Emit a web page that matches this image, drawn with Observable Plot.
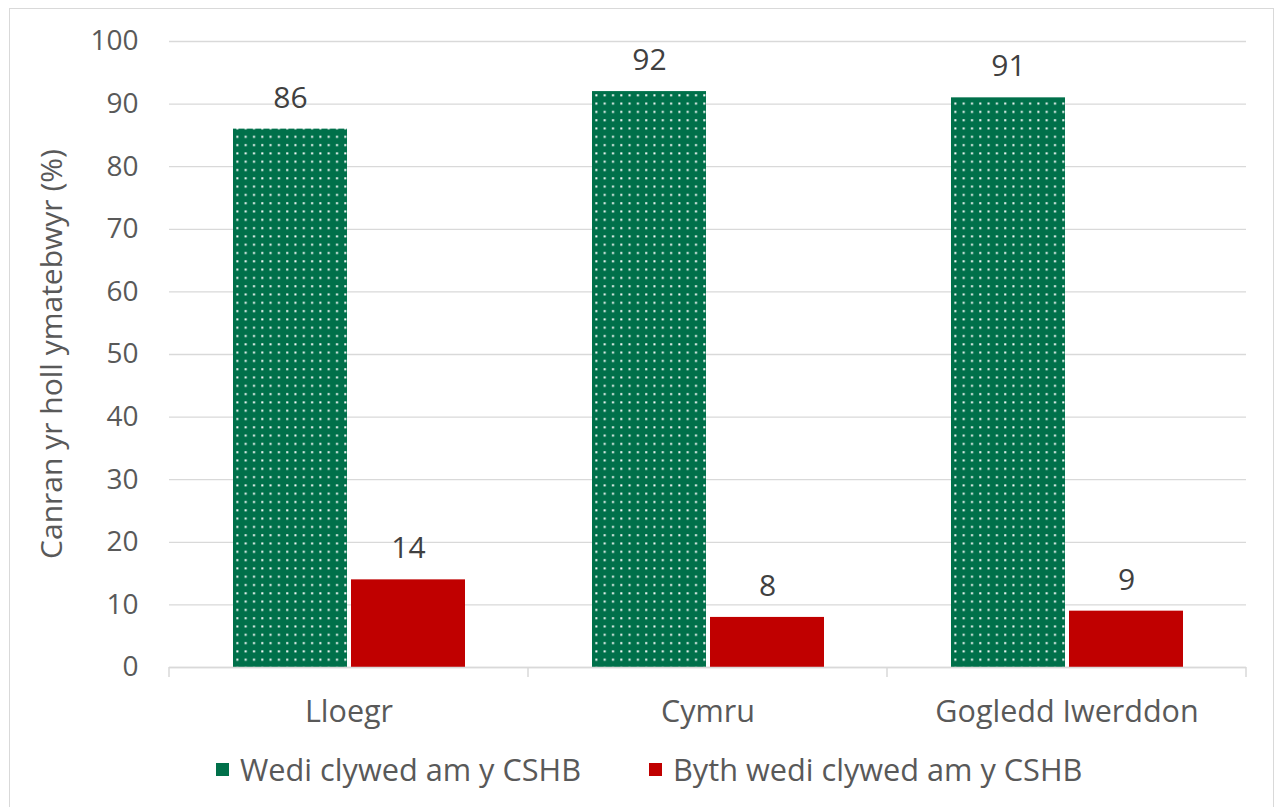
<!DOCTYPE html>
<html>
<head>
<meta charset="utf-8">
<script src="https://cdn.jsdelivr.net/npm/d3@7"></script>
<script src="https://cdn.jsdelivr.net/npm/@observablehq/plot@0.6"></script>
<style>
  body { margin: 0; background: #fff; font-family: "Open Sans", "Noto Sans", sans-serif; }
  #wrap { position: relative; width: 1279px; height: 807px; overflow: hidden; }
  #frame { position: absolute; left: 9px; top: 8px; width: 1265px; height: 830px; border: 1.5px solid #d9d9d9; box-sizing: border-box; }
  #chart { position: absolute; left: 0; top: 0; }
  #legend { position: absolute; top: 748px; left: 0; width: 1279px; height: 40px; color: #595959; font-size: 30.7px; }
  .item { position: absolute; display: flex; align-items: center; white-space: nowrap; }
  .sw { width: 13px; height: 13px; margin-right: 11px; }
</style>
</head>
<body>
<div id="wrap">
  <div id="frame"></div>
  <div id="chart"></div>
  <div id="legend"></div>
</div>
<script>
const categories = ["Lloegr", "Cymru", "Gogledd Iwerddon"];
const series = ["Wedi clywed am y CSHB", "Byth wedi clywed am y CSHB"];
const heard = [86, 92, 91];
const neverHeard = [14, 8, 9];
const yTicks = [0, 10, 20, 30, 40, 50, 60, 70, 80, 90, 100];
const colors = ["#00704A", "#C00000"];
const yTitle = "Canran yr holl ymatebwyr (%)";

const data = categories.flatMap((c, i) => [
  {category: c, series: series[0], value: heard[i]},
  {category: c, series: series[1], value: neverHeard[i]}
]);

const fontFamily = "'Open Sans', 'Noto Sans', sans-serif";
const W = 1279, H = 730;

const plot = Plot.plot({
  width: W,
  height: H,
  marginLeft: 168,
  marginRight: 32,
  marginTop: 41,
  marginBottom: 63,
  style: {fontFamily, color: "#595959", background: "transparent", overflow: "visible"},
  fx: {domain: categories, padding: 0, label: null},
  x: {domain: series, paddingInner: 0.034, paddingOuter: 0.528, axis: null},
  y: {domain: [0, 100], label: null},
  marks: [
    Plot.gridY(yTicks, {stroke: "#d9d9d9", strokeOpacity: 1, strokeWidth: 1.3}),
    Plot.axisY(yTicks, {tickSize: 0, tickPadding: 31, fontSize: 28, fill: "#595959", label: null}),
    Plot.barY(data, {filter: d => d.series === series[0], fx: "category", x: "series", y: "value", fill: "url(#dots)"}),
    Plot.barY(data, {filter: d => d.series === series[1], fx: "category", x: "series", y: "value", fill: colors[1]}),
    Plot.text(data, {fx: "category", x: "series", y: "value", text: d => String(d.value), dy: -31, fontSize: 30, fill: "#404040"}),
    Plot.ruleY([0], {stroke: "#d9d9d9", strokeWidth: 1.5}),
    Plot.axisFx({anchor: "bottom", tickSize: 0, tickPadding: 33, fontSize: 30.5, fill: "#595959", label: null})
  ]
});

const svg = d3.select(plot);
const defs = svg.insert("defs", ":first-child");
const pat = defs.append("pattern").attr("id", "dots").attr("patternUnits", "userSpaceOnUse")
  .attr("width", 8.3).attr("height", 8.3);
pat.append("rect").attr("width", 8.3).attr("height", 8.3).attr("fill", colors[0]);
pat.append("rect").attr("x", 3).attr("y", 3).attr("width", 2).attr("height", 2).attr("fill", "#fff");

// category boundary ticks, from the fx scale
const fx = plot.scale("fx");
const y = plot.scale("y");
const y0 = y.apply(0);
const edges = new Set();
categories.forEach(c => { const s = fx.apply(c); edges.add(s); edges.add(s + fx.bandwidth); });
svg.append("g").selectAll("line").data([...edges]).join("line")
  .attr("x1", d => d).attr("x2", d => d).attr("y1", y0).attr("y2", y0 + 10)
  .attr("stroke", "#d9d9d9").attr("stroke-width", 1.5);

// y-axis title
svg.append("text").text(yTitle)
  .attr("transform", `translate(50,${(y.apply(0) + y.apply(100)) / 2}) rotate(-90)`)
  .attr("text-anchor", "middle").attr("dominant-baseline", "central")
  .attr("font-size", 30).attr("fill", "#595959").attr("font-family", fontFamily);

document.getElementById("chart").appendChild(plot);

// legend
const legend = document.getElementById("legend");
const lefts = [216, 649];
series.forEach((s, i) => {
  const it = document.createElement("div");
  it.className = "item";
  it.style.left = lefts[i] + "px";
  it.innerHTML = `<div class="sw" style="background:${colors[i]}"></div><span>${s}</span>`;
  legend.appendChild(it);
});
</script>
</body>
</html>
